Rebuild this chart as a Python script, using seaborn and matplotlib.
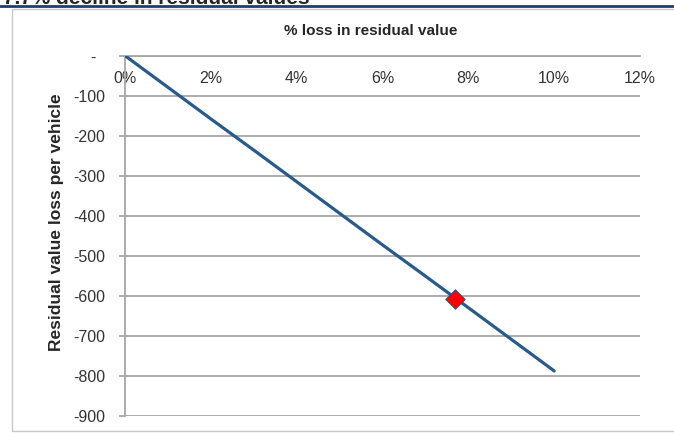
import matplotlib
matplotlib.use("Agg")
from matplotlib import pyplot as plt
from matplotlib.patches import Rectangle
from matplotlib.lines import Line2D
import seaborn as sns
import pandas as pd

sns.set_style("white")
plt.rcParams["font.family"] = ["Liberation Sans", "DejaVu Sans"]

# data
loss_pct = [0.00, 0.01, 0.02, 0.03, 0.04, 0.05, 0.06, 0.07, 0.08, 0.09, 0.10]
rv_loss = [0, -79, -158, -236, -315, -394, -473, -551, -630, -709, -788]
point_pct = [0.077]
point_loss = [-607]

x_ticks = [0.00, 0.02, 0.04, 0.06, 0.08, 0.10, 0.12]
x_labels = ["0%", "2%", "4%", "6%", "8%", "10%", "12%"]
y_ticks = [-900, -800, -700, -600, -500, -400, -300, -200, -100, 0]
y_labels = ["-900", "-800", "-700", "-600", "-500", "-400", "-300", "-200", "-100", "-  "]

df = pd.DataFrame({"pct": loss_pct, "loss": rv_loss})
pt = pd.DataFrame({"pct": point_pct, "loss": point_loss})

fig = plt.figure(figsize=(6.74, 4.33), dpi=100)
ax = fig.add_axes([125 / 674, 1 - 415.7 / 433, 515 / 674, 360 / 433])

grid_c = "#a6a6a6"
sns.lineplot(data=df, x="pct", y="loss", ax=ax, color="#285a8c", linewidth=2.3, zorder=3)
sns.scatterplot(data=pt, x="pct", y="loss", ax=ax, marker="D", s=100, color="#ff0000",
                edgecolor="#285a8c", linewidth=0.6, zorder=4)

ax.set_xlim(0, 0.12)
ax.set_ylim(-900, 0)
ax.set_xticks(x_ticks)
ax.set_xticklabels(x_labels)
ax.set_yticks(y_ticks)
ax.set_yticklabels(y_labels)
ax.set_xlabel("")
ax.set_ylabel("")

# x axis sits at y=0 (top), Excel style
ax.spines["bottom"].set_position(("data", 0))
ax.spines["top"].set_visible(False)
ax.spines["right"].set_visible(False)
for s in ["bottom", "left"]:
    ax.spines[s].set_color(grid_c)
    ax.spines[s].set_linewidth(1.3)

ax.yaxis.grid(True, color=grid_c, linewidth=1.3)
ax.xaxis.grid(False)
ax.tick_params(axis="x", direction="in", length=4, width=1.3, color=grid_c,
               labelsize=11.5, labelcolor="#333333", pad=11)
ax.tick_params(axis="y", direction="out", length=4, width=1.3, color=grid_c,
               labelsize=11.5, labelcolor="#333333", pad=10, left=True)

fig.text(371 / 674, 1 - 31 / 433, "% loss in residual value", ha="center", va="center",
         fontsize=11, fontweight="bold")
fig.text(57 / 674, 1 - 222 / 433, "Residual value loss per vehicle", ha="center", va="center",
         rotation=90, fontsize=12.5, fontweight="bold")

# chart frame and header line
fig.patches.append(Rectangle((12 / 674, 1 - 431 / 433), 700 / 674, 422 / 433,
                             transform=fig.transFigure, fill=False,
                             edgecolor="#c8c8c8", linewidth=1))
fig.lines.append(Line2D([0, 1], [1 - 6 / 433, 1 - 6 / 433], transform=fig.transFigure,
                        color="#1f3f6e", linewidth=2))
fig.text(3 / 674, 1 - 3.5 / 433, "7.7% decline in residual values", ha="left", va="baseline",
         fontsize=15, fontweight="bold")

fig.savefig("out.png", dpi=100)
